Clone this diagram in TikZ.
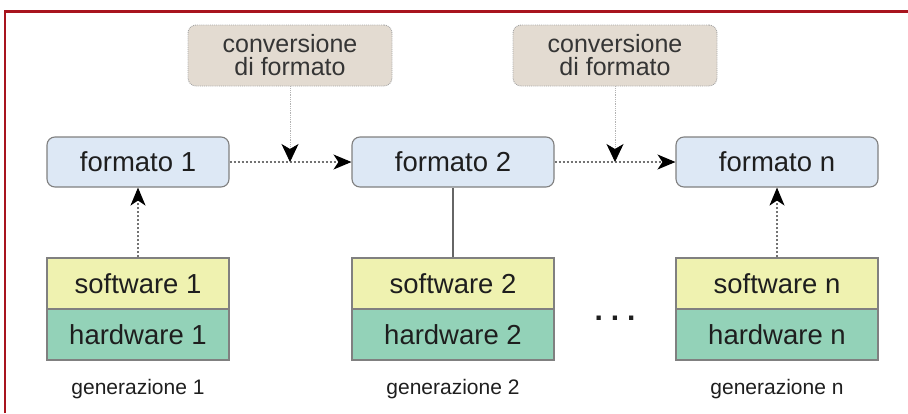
\documentclass[tikz,border=0pt]{standalone}
\usepackage{fontspec}
\setmainfont{Liberation Sans}
\usetikzlibrary{arrows.meta}
\definecolor{frame}{HTML}{A8141E}
\definecolor{fmtfill}{HTML}{DDE8F5}
\definecolor{convfill}{HTML}{E3DBD1}
\definecolor{swfill}{HTML}{EFF2B0}
\definecolor{hwfill}{HTML}{93D2B8}
\definecolor{edge}{HTML}{808080}
\definecolor{txt}{HTML}{1E1E1E}
\tikzset{
  fmtbox/.style={draw=edge, line width=1.1pt, fill=fmtfill, rounded corners=8pt,
    minimum height=50pt, inner sep=0pt, text=txt, font=\fontsize{27.5}{30}\selectfont},
  convbox/.style={draw=edge!70, densely dotted, line width=0.9pt, fill=convfill, rounded corners=8pt,
    minimum width=204pt, minimum height=61pt, inner sep=0pt, align=center, text=txt!90,
    font=\fontsize{25}{23}\selectfont},
  swbox/.style={draw=edge, line width=1.1pt, fill=swfill, minimum height=51pt, inner sep=0pt,
    text=txt, font=\fontsize{27.5}{30}\selectfont},
  hwbox/.style={draw=edge, line width=1.1pt, fill=hwfill, minimum height=51pt, inner sep=0pt,
    text=txt, font=\fontsize{27.5}{30}\selectfont},
  genlabel/.style={inner sep=0pt, text=txt, font=\fontsize{21}{24}\selectfont},
  flow/.style={draw=edge!90!black, line width=1.1pt, dash pattern=on 2.4pt off 1.6pt,
    -{Stealth[length=18pt,width=15pt,inset=5pt,black]}},
  convarrow/.style={draw=edge!60, line width=0.8pt, densely dotted,
    -{Stealth[length=18pt,width=17pt,inset=5pt,black]}},
}
\begin{document}
\begin{tikzpicture}[x=1pt,y=-1pt]
\useasboundingbox (0,0) rectangle (908,413);
% frame
\draw[frame, line width=2.5pt] (5,413) -- (5,11.5) -- (908,11.5);

% format boxes
\node[fmtbox, minimum width=182pt] (f1) at (138,162) {formato 1};
\node[fmtbox, minimum width=202pt] (f2) at (453,162) {formato 2};
\node[fmtbox, minimum width=202pt] (fn) at (777,162) {formato n};

% conversion boxes
\node[convbox] (c1) at (290,55.5) {conversione\\di formato};
\node[convbox] (c2) at (615,55.5) {conversione\\di formato};

% software / hardware stacks
\node[swbox, minimum width=182pt] (s1) at (138,283.5) {software 1};
\node[hwbox, minimum width=182pt] (h1) at (138,334.5) {hardware 1};
\node[swbox, minimum width=202pt] (s2) at (453,283.5) {software 2};
\node[hwbox, minimum width=202pt] (h2) at (453,334.5) {hardware 2};
\node[swbox, minimum width=202pt] (sn) at (777,283.5) {software n};
\node[hwbox, minimum width=202pt] (hn) at (777,334.5) {hardware n};

% generation labels
\node[genlabel] (g1) at (138,389) {generazione 1};
\node[genlabel] (g2) at (453,389) {generazione 2};
\node[genlabel] (gn) at (777,389) {generazione n};

% dots
\node[inner sep=0pt, text=txt, font=\bfseries\fontsize{30}{30}\selectfont] (dots) at (615,318)
  {.\hspace{8pt}.\hspace{8pt}.};

% connectors
\coordinate (m1) at (290,162);
\coordinate (m2) at (615,162);
\draw[flow] (f1.east) -- (f2.west);
\draw[flow] (f2.east) -- (fn.west);
\draw[convarrow] (c1.south) -- (m1);
\draw[convarrow] (c2.south) -- (m2);
\draw[flow] (s1.north) -- (f1.south);
\draw[flow] (sn.north) -- (fn.south);
\draw[draw=edge!80!black, line width=1.3pt] (f2.south) -- (s2.north);
\end{tikzpicture}
\end{document}
